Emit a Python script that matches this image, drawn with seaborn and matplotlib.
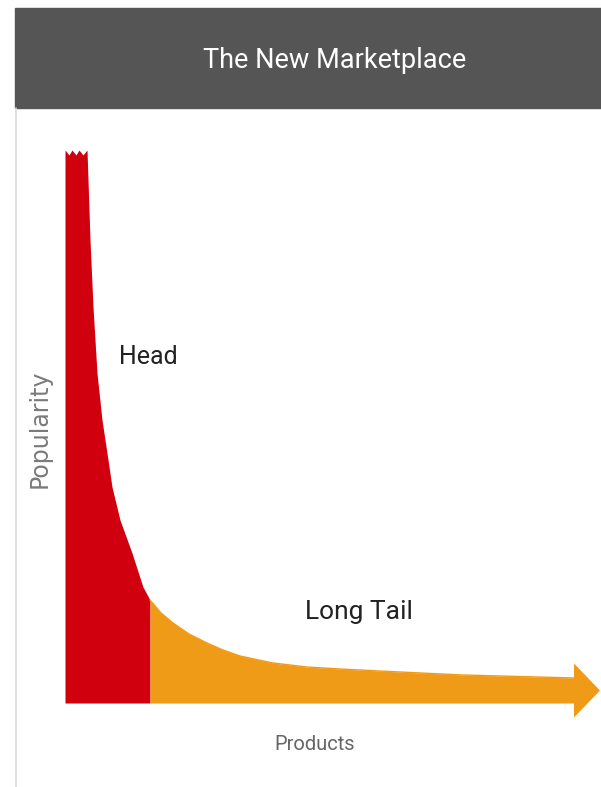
import numpy as np
import pandas as pd
import matplotlib
matplotlib.use("Agg")
import matplotlib.pyplot as plt
import seaborn as sns
from matplotlib.patches import Rectangle, Polygon
from matplotlib.lines import Line2D

# ================================
# DATA
# ================================
head_x = [0, 4, 7, 11, 14, 18, 22, 25, 28, 32, 37, 42, 47, 55, 67, 78, 85]
head_y = [553, 548, 553, 548, 553, 548, 553, 463, 396, 330, 283, 250, 216, 183, 150, 116, 103]
tail_x = [85, 96, 108, 124, 142, 158, 175, 208, 242, 275, 335, 398, 510]
tail_y = [103, 90, 80, 69, 60, 53, 47, 40, 36, 34, 31, 28, 25]

title = "The New Marketplace"
labels = {"head": "Head", "tail": "Long Tail", "x": "Products", "y": "Popularity"}

RED = "#d0000e"
ORANGE = "#f09b18"
HEADER = "#555555"

head = pd.DataFrame({"product": head_x, "popularity": head_y})
tail = pd.DataFrame({"product": tail_x, "popularity": tail_y})

# ================================
# FIGURE
# ================================
sns.set_theme(style="white")
narrow = ["Roboto", "DejaVu Sans"]
plt.rcParams["font.family"] = ["DejaVu Sans"]

W, H = 601, 787
fig = plt.figure(figsize=(W / 100, H / 100), dpi=100)
fig.patch.set_facecolor("white")

# header band + left border
fig.patches.append(Rectangle((15 / W, 1 - 108 / H), 1 - 15 / W, 100 / H,
                             transform=fig.transFigure, color=HEADER, zorder=0))
fig.lines.append(Line2D([16 / W, 16 / W], [0, 1 - 108 / H], transform=fig.transFigure,
                        color="#d8d8d8", lw=1.2))
fig.text(335 / W, 1 - 60 / H, title, color="white", fontsize=19.5,
         ha="center", va="center", family=narrow)

# chart axes: 1 data unit = 1 pixel, origin at (65, 703)
x0, y0 = 65, 703
ymin, ymax = -20, 560
ax = fig.add_axes([x0 / W, (H - y0 + ymin) / H, (W - x0) / W, (ymax - ymin) / H])
ax.set_xlim(0, W - x0)
ax.set_ylim(ymin, ymax)
ax.axis("off")

ax.fill_between(head["product"], 0, head["popularity"], color=RED, lw=0)
ax.fill_between(tail["product"], 0, tail["popularity"], color=ORANGE, lw=0)
sns.lineplot(data=tail, x="product", y="popularity", color=ORANGE, lw=1, ax=ax)

# arrow head at the end of the tail
end_x = tail_x[-1]
mid = tail_y[-1] / 2
ax.add_patch(Polygon([[end_x - 1, mid + 27], [end_x + 25, mid], [end_x - 1, mid - 27]],
                     closed=True, color=ORANGE, lw=0))

# labels
ax.text(83, 346, labels["head"], fontsize=18, color="#222222", ha="center", va="center",
        family=narrow)
ax.text(294, 91, labels["tail"], fontsize=19, color="#222222", ha="center", va="center",
        family=narrow)
fig.text(315 / W, 1 - 745 / H, labels["x"], fontsize=14.5, color="#666666",
         ha="center", va="center", family=narrow)
fig.text(40 / W, 1 - 429 / H, labels["y"], fontsize=17, color="#7a7a7a",
         ha="center", va="center", rotation=90)

fig.savefig("out.png", dpi=100, facecolor="white")
